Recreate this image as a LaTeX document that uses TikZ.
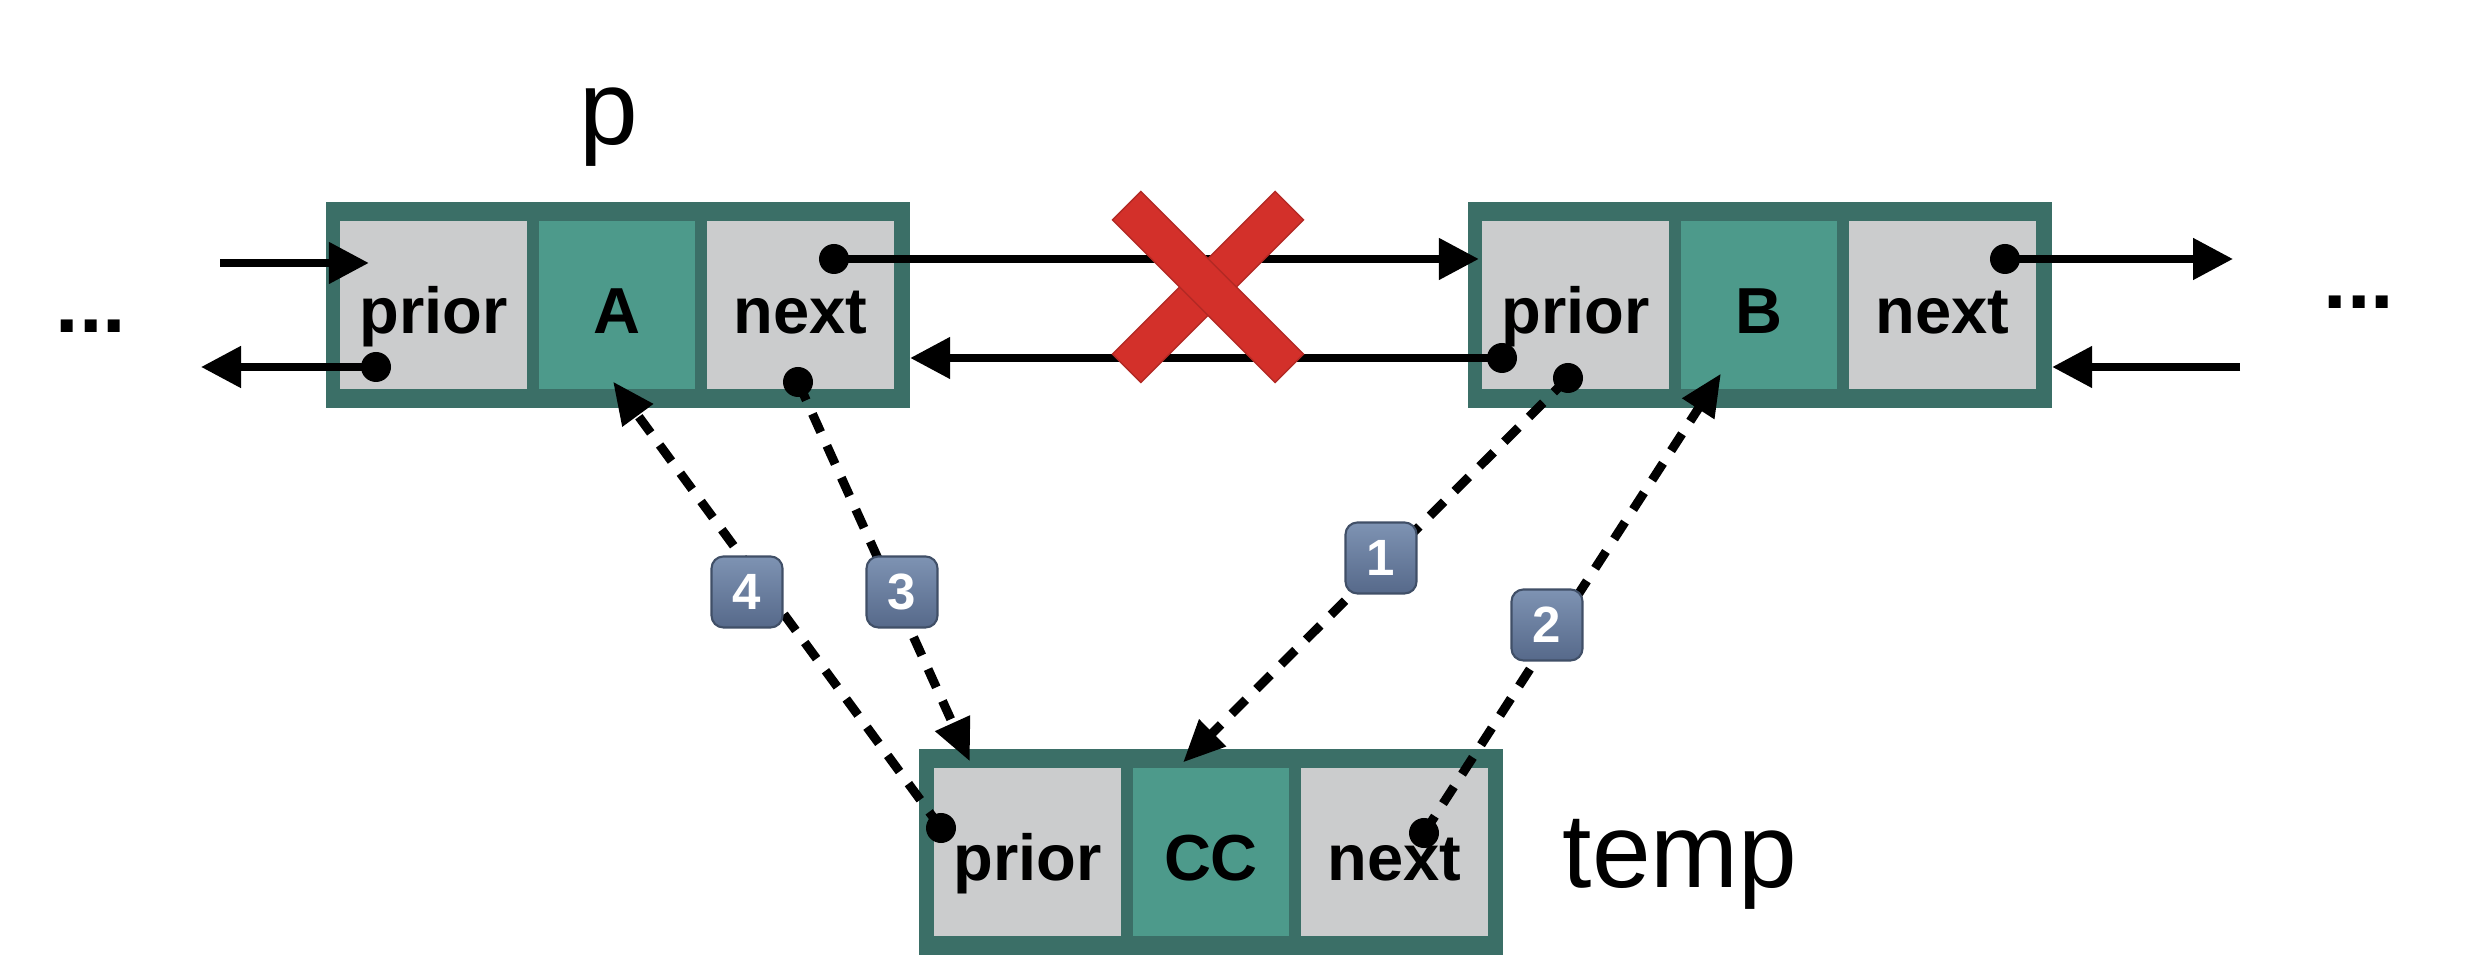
\documentclass[tikz,border=0pt]{standalone}
\usepackage{fontspec}
\setmainfont{Liberation Sans}
\usetikzlibrary{positioning,arrows.meta}
\definecolor{frameteal}{HTML}{3B6F67}
\definecolor{datateal}{HTML}{4D9A8B}
\definecolor{cellgray}{HTML}{CBCCCD}
\definecolor{crossred}{HTML}{D3302A}
\definecolor{badgetop}{HTML}{7E93B3}
\definecolor{badgebot}{HTML}{56698A}

\begin{document}
\begin{tikzpicture}[x=0.01cm,y=-0.01cm]
        \tikzstyle{frame}=[fill=frameteal, minimum width=5.84cm, minimum height=2.06cm, inner sep=0pt, outer sep=0pt]
        \tikzstyle{cell}=[fill=cellgray, minimum width=1.87cm, minimum height=1.67cm, inner sep=0pt, outer sep=0pt, text height=0.56cm, text depth=0cm, font=\fontsize{18.5}{20}\selectfont\bfseries]
        \tikzstyle{datacell}=[cell, fill=datateal, minimum width=1.56cm]
        \tikzstyle{dot}=[circle, fill=black, minimum size=0.3cm, inner sep=0pt, outer sep=0pt]
        \tikzstyle{link}=[line width=0.08cm, -{Triangle[length=0.4cm,width=0.4cm]}]
        \tikzstyle{dashlink}=[line width=0.09cm, dash pattern=on 0.2cm off 0.15cm, -{Triangle[length=0.42cm,width=0.36cm]}]
        \tikzstyle{crossbar}=[fill=crossred, draw=crossred!85!black, line width=0.4pt, minimum width=2.3cm, minimum height=0.4cm, inner sep=0pt]
        \tikzstyle{badge}=[rounded corners=0.12cm, minimum size=0.71cm, inner sep=0pt, top color=badgetop, bottom color=badgebot, draw=badgebot!75!black, line width=0.6pt, text=white, font=\fontsize{14.5}{16}\selectfont\bfseries]
        \tikzstyle{tag}=[font=\fontsize{30}{32}\selectfont, inner sep=0pt, anchor=base west]
        \tikzstyle{ellip}=[font=\fontsize{24}{26}\selectfont\bfseries, inner sep=0pt, anchor=base]
        \useasboundingbox (0,0) rectangle (2478,980);
        % node A
        \node[frame] (A) at (618,305) {};
        \node[cell, anchor=west] (Aprior) at ([xshift=0.14cm]A.west) {prior};
        \node[datacell, right=0.12cm of Aprior] (Adata) {A};
        \node[cell, right=0.12cm of Adata] (Anext) {next};
        % node B
        \node[frame] (B) at (1760,305) {};
        \node[cell, anchor=west] (Bprior) at ([xshift=0.14cm]B.west) {prior};
        \node[datacell, right=0.12cm of Bprior] (Bdata) {B};
        \node[cell, right=0.12cm of Bdata] (Bnext) {next};
        % node temp
        \node[frame] (T) at (1211,852) {};
        \node[cell, anchor=west] (Tprior) at ([xshift=0.15cm]T.west) {prior};
        \node[datacell, right=0.12cm of Tprior] (Tdata) {CC};
        \node[cell, right=0.12cm of Tdata] (Tnext) {next};
        % labels
        \node[tag] (plabel) at (579,145) {p};
        \node[tag] (templabel) at (1562,888) {temp};
        \node[ellip] (leftdots) at (91,333) {...};
        \node[ellip] (rightdots) at (2359,309) {...};
        % pointers
        \node[dot] (dAprior) at (376,367) {};
        \node[dot] (dAnext) at (834,259) {};
        \node[dot] (dAnextlow) at (798,382) {};
        \node[dot] (dBprior) at (1502,358) {};
        \node[dot] (dBpriorlow) at (1568,378) {};
        \node[dot] (dBnext) at (2005,259) {};
        \node[dot] (dTprior) at (941,828) {};
        \node[dot] (dTnext) at (1424,833) {};
        \coordinate (inL) at (220,263);
        \coordinate (outL) at (201,367);
        \coordinate (outR) at (2233,259);
        \coordinate (inR) at (2240,367);
        \draw[link] (inL) -- ([xshift=0.29cm]inL -| Aprior.west);
        \draw[link] (dAprior.center) -- (outL);
        \draw[link] (dAnext.center) -- ([xshift=-0.03cm]dAnext -| Bprior.west);
        \draw[link] (dBprior.center) -- (dBprior -| A.east);
        \draw[link] (dBnext.center) -- (outR);
        \draw[link] (inR) -- (inR -| B.east);
        % new links
        \draw[dashlink] (dBpriorlow.center) -- ([xshift=-0.28cm,yshift=0.06cm]Tdata.north);
        \draw[dashlink] (dTnext.center) -- ([xshift=-0.38cm,yshift=0.15cm]Bdata.south);
        \draw[dashlink] (dAnextlow.center) -- ([xshift=0.36cm,yshift=0.07cm]Tprior.north west);
        \draw[dashlink] (dTprior.center) -- ([xshift=-0.04cm,yshift=0.07cm]Adata.south);
        \node[badge] (b1) at (1381,558) {1};
        \node[badge] (b2) at (1547,625) {2};
        \node[badge] (b3) at (902,592) {3};
        \node[badge] (b4) at (747,592) {4};
        % broken link
        \node[crossbar, rotate=45] (xa) at (1208,287) {};
        \node[crossbar, rotate=-45] (xb) at (1208,287) {};
    \end{tikzpicture}
\end{document}
